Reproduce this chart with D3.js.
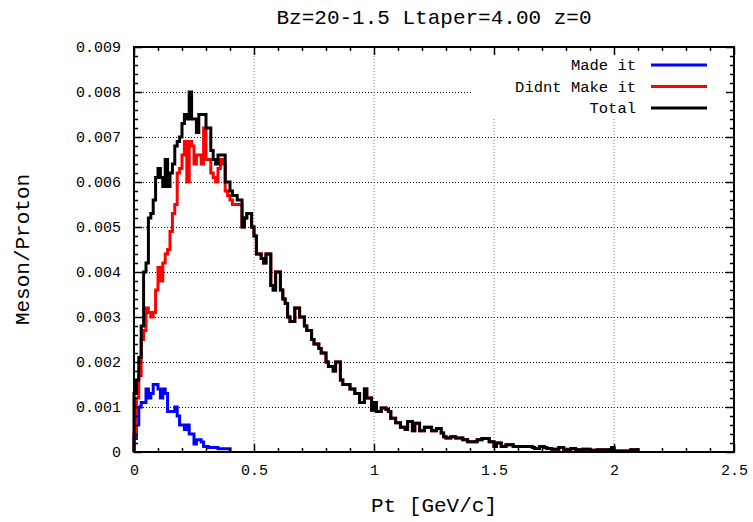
<!DOCTYPE html>
<html>
<head>
<meta charset="utf-8">
<script src="https://cdn.jsdelivr.net/npm/d3@7"></script>
<style>
  body { margin: 0; background: #fff; }
  text { font-family: "Liberation Mono", "Courier New", monospace; }
</style>
</head>
<body>
<svg id="chart" width="753" height="522"></svg>
<script>
// Histogramm-Daten, Binbreite 0.01 GeV/c
const binWidth = 0.01;

const madeIt = [
  0.0003, 0.0006, 0.0010, 0.0011, 0.0011, 0.0014, 0.0012, 0.0013, 0.0015, 0.0015,
  0.0014, 0.0012, 0.0014, 0.0013, 0.0009, 0.0009, 0.0009, 0.0010, 0.0008, 0.0006,
  0.0006, 0.0005, 0.0006, 0.0004, 0.0004, 0.00018, 0.00027, 0.00027, 0.00022, 0.00012,
  0.00012, 0.0001, 0.0001, 0.0001, 0.0001, 0.00007, 0.00007, 0.00007, 0.00007, 0.00007
];

const didntMakeIt = [
  0.0004, 0.0012, 0.0017, 0.0025, 0.0027, 0.0032, 0.0031, 0.0030, 0.0031, 0.0036,
  0.0041, 0.0038, 0.0042, 0.0044, 0.0045, 0.0049, 0.0053, 0.0055, 0.0062, 0.0063,
  0.0066, 0.0069, 0.0060, 0.0069, 0.0068, 0.0064, 0.0066, 0.0066, 0.0064, 0.0072,
  0.0065, 0.0065, 0.0062, 0.0061, 0.0060, 0.0063, 0.0065, 0.0064, 0.0058, 0.0057,
  0.0056, 0.0055, 0.0055, 0.0055, 0.0055, 0.0050, 0.0052, 0.0053, 0.0053, 0.0050,
  0.0048, 0.0044, 0.0044, 0.0043, 0.0042, 0.0044, 0.0044, 0.0037, 0.0036, 0.0040,
  0.0040, 0.0036, 0.0034, 0.0033, 0.0030, 0.0029, 0.0029, 0.0032, 0.0032, 0.0030,
  0.0030, 0.0028, 0.0027, 0.0027, 0.0025, 0.0024, 0.0024, 0.0023, 0.0022, 0.0022,
  0.0020, 0.0019, 0.0019, 0.0018, 0.0020, 0.0020, 0.0016, 0.0015, 0.0015, 0.0015,
  0.0014, 0.0014, 0.0013, 0.0013, 0.0011, 0.0011, 0.0014, 0.0012, 0.0012, 0.00093,
  0.0011, 0.0009, 0.0009, 0.00098, 0.00098, 0.00095, 0.0009, 0.00075, 0.00075, 0.00065,
  0.00065, 0.00055, 0.00055, 0.0005, 0.00068, 0.00068, 0.00047, 0.00064, 0.00064, 0.00047,
  0.00047, 0.00055, 0.00055, 0.00055, 0.00047, 0.00047, 0.00052, 0.00052, 0.00042, 0.00034,
  0.00031, 0.00031, 0.00034, 0.00034, 0.00031, 0.00031, 0.00031, 0.00027, 0.00027, 0.00023,
  0.00023, 0.00023, 0.00023, 0.00027, 0.00027, 0.0003, 0.0003, 0.0003, 0.00023, 0.00023,
  0.00012, 0.0002, 0.0002, 0.00012, 0.00012, 0.00016, 0.00016, 0.00016, 0.00012, 0.00012,
  0.00012, 0.00012, 0.00012, 0.00012, 0.00012, 0.00012, 0.0001, 0.00008, 0.00008, 0.00012,
  0.00012, 0.0001, 0.00008, 0.00008, 0.00006, 0.00006, 0.00006, 0.0001, 0.0001, 0.00006,
  0.00005, 0.00005, 0.00008, 0.00008, 0.00005, 0.00005, 0.00005, 0.00006, 0.00006, 0.00006,
  0.00004, 0.00004, 0.00004, 0.00005, 0.00005, 0.00005, 0.00005, 0.00005, 0.00005, 0.0001,
  0.00002, 0.00002, 0.00002, 0.00002, 0.00002, 0.00002, 0.00002, 0.00005, 0.00005, 0.00005
];

const total = [
  0.0013, 0.0016, 0.0021, 0.0028, 0.0040, 0.0042, 0.0052, 0.0053, 0.0056, 0.0061,
  0.0063, 0.0061, 0.0059, 0.0065, 0.0059, 0.0062, 0.0064, 0.0068, 0.0069, 0.0070,
  0.0073, 0.0075, 0.0074, 0.0080, 0.0074, 0.0074, 0.0071, 0.0075, 0.0075, 0.0075,
  0.0072, 0.0072, 0.0067, 0.0065, 0.0064, 0.0066, 0.0066, 0.0066, 0.0060, 0.0060,
  0.0058, 0.0057, 0.0057, 0.0056, 0.0056, 0.0050, 0.0052, 0.0053, 0.0053, 0.0050,
  0.0048, 0.0044, 0.0044, 0.0043, 0.0042, 0.0044, 0.0044, 0.0037, 0.0036, 0.0040,
  0.0040, 0.0036, 0.0034, 0.0033, 0.0030, 0.0029, 0.0029, 0.0032, 0.0032, 0.0030,
  0.0030, 0.0028, 0.0027, 0.0027, 0.0025, 0.0024, 0.0024, 0.0023, 0.0022, 0.0022,
  0.0020, 0.0019, 0.0019, 0.0018, 0.0020, 0.0020, 0.0016, 0.0015, 0.0015, 0.0015,
  0.0014, 0.0014, 0.0013, 0.0013, 0.0011, 0.0011, 0.0014, 0.0012, 0.0012, 0.00093,
  0.0011, 0.0009, 0.0009, 0.00098, 0.00098, 0.00095, 0.0009, 0.00075, 0.00075, 0.00065,
  0.00065, 0.00055, 0.00055, 0.0005, 0.00068, 0.00068, 0.00047, 0.00064, 0.00064, 0.00047,
  0.00047, 0.00055, 0.00055, 0.00055, 0.00047, 0.00047, 0.00052, 0.00052, 0.00042, 0.00034,
  0.00031, 0.00031, 0.00034, 0.00034, 0.00031, 0.00031, 0.00031, 0.00027, 0.00027, 0.00023,
  0.00023, 0.00023, 0.00023, 0.00027, 0.00027, 0.0003, 0.0003, 0.0003, 0.00023, 0.00023,
  0.00012, 0.0002, 0.0002, 0.00012, 0.00012, 0.00016, 0.00016, 0.00016, 0.00012, 0.00012,
  0.00012, 0.00012, 0.00012, 0.00012, 0.00012, 0.00012, 0.0001, 0.00008, 0.00008, 0.00012,
  0.00012, 0.0001, 0.00008, 0.00008, 0.00006, 0.00006, 0.00006, 0.0001, 0.0001, 0.00006,
  0.00005, 0.00005, 0.00008, 0.00008, 0.00005, 0.00005, 0.00005, 0.00006, 0.00006, 0.00006,
  0.00004, 0.00004, 0.00004, 0.00005, 0.00005, 0.00005, 0.00005, 0.00005, 0.00005, 0.0001,
  0.00002, 0.00002, 0.00002, 0.00002, 0.00002, 0.00002, 0.00002, 0.00005, 0.00005, 0.00005
];

const seriesNames = ["Made it", "Didnt Make it", "Total"];
const seriesColors = ["#0000ff", "#ff0000", "#000000"];

const xTicks = [0, 0.5, 1, 1.5, 2, 2.5];
const yTicks = [0, 0.001, 0.002, 0.003, 0.004, 0.005, 0.006, 0.007, 0.008, 0.009];

const svg = d3.select("#chart");
const margin = {top: 47, right: 19, bottom: 70, left: 134};
const width = 753 - margin.left - margin.right,
      height = 522 - margin.top - margin.bottom;

const x = d3.scaleLinear().domain([0, 2.5]).range([0, width]);
const y = d3.scaleLinear().domain([0, 0.009]).range([height, 0]);

const g = svg.append("g")
  .attr("transform", `translate(${margin.left},${margin.top})`);

// Gitterlinien (gepunktet)
g.append("g").selectAll("line")
  .data(yTicks.slice(1, -1))
  .enter().append("line")
  .attr("x1", 0).attr("x2", width)
  .attr("y1", d => Math.round(y(d)) + 0.5).attr("y2", d => Math.round(y(d)) + 0.5)
  .attr("stroke", "#000").attr("stroke-width", 1).attr("stroke-dasharray", "1,2");

g.append("g").selectAll("line")
  .data(xTicks.slice(1, -1))
  .enter().append("line")
  .attr("y1", 0).attr("y2", height)
  .attr("x1", d => x(d)).attr("x2", d => x(d))
  .attr("stroke", "#777").attr("stroke-width", 1).attr("stroke-dasharray", "1,2");

// weisser Hintergrund der Legende
g.append("rect")
  .attr("x", 337).attr("y", 1)
  .attr("width", width - 338).attr("height", 70)
  .attr("fill", "#fff");

// Treppenkurven
const line = d3.line()
  .x(d => x(d[0]))
  .y(d => y(d[1]))
  .curve(d3.curveStepAfter);

function stepPoints(vals) {
  const pts = [[0, 0]];
  vals.forEach((v, i) => pts.push([i * binWidth, v]));
  pts.push([vals.length * binWidth, 0]);
  return pts;
}

[madeIt, didntMakeIt, total].forEach((vals, i) => {
  g.append("path")
    .datum(stepPoints(vals))
    .attr("fill", "none")
    .attr("stroke", seriesColors[i])
    .attr("stroke-width", 3)
    .attr("d", line);
});

// Achsen mit Ticks nach innen, gespiegelt
const xMinor = d3.range(1, 25).map(i => i / 10).filter(v => Math.round(v * 10) % 5 !== 0);
const yMinor = d3.range(1, 45).map(i => i * 0.0002).filter((v, i) => (i + 1) % 5 !== 0);

function styleAxis(sel) {
  sel.select(".domain").remove();
  sel.selectAll("line").attr("stroke-width", 1.5);
  sel.attr("font-family", "'Liberation Mono', 'Courier New', monospace")
     .attr("font-size", 15);
  sel.selectAll("text").attr("fill", "#000");
}

g.append("g").attr("transform", `translate(0,${height})`)
  .call(d3.axisBottom(x).tickValues(xTicks).tickSize(-8).tickPadding(12).tickFormat(d => String(d)))
  .call(styleAxis);
g.append("g").attr("transform", `translate(0,${height})`)
  .call(d3.axisBottom(x).tickValues(xMinor).tickSize(-4).tickFormat(""))
  .call(styleAxis);
g.append("g")
  .call(d3.axisTop(x).tickValues(xTicks).tickSize(-8).tickFormat(""))
  .call(styleAxis);
g.append("g")
  .call(d3.axisTop(x).tickValues(xMinor).tickSize(-4).tickFormat(""))
  .call(styleAxis);

g.append("g")
  .call(d3.axisLeft(y).tickValues(yTicks).tickSize(-8).tickPadding(13).tickFormat(d => String(d)))
  .call(styleAxis);
g.append("g")
  .call(d3.axisLeft(y).tickValues(yMinor).tickSize(-4).tickFormat(""))
  .call(styleAxis);
g.append("g").attr("transform", `translate(${width},0)`)
  .call(d3.axisRight(y).tickValues(yTicks).tickSize(-8).tickFormat(""))
  .call(styleAxis);
g.append("g").attr("transform", `translate(${width},0)`)
  .call(d3.axisRight(y).tickValues(yMinor).tickSize(-4).tickFormat(""))
  .call(styleAxis);

// Rahmen
g.append("rect")
  .attr("x", 0).attr("y", 0)
  .attr("width", width).attr("height", height)
  .attr("fill", "none").attr("stroke", "#000").attr("stroke-width", 2);

// Legende
const legend = g.append("g").attr("transform", "translate(502,18)");
seriesNames.forEach((name, i) => {
  legend.append("text")
    .attr("x", 0).attr("y", i * 21.5 + 5)
    .attr("text-anchor", "end")
    .attr("font-size", 15.5)
    .text(name);
  legend.append("line")
    .attr("x1", 15).attr("x2", 71)
    .attr("y1", i * 21.5).attr("y2", i * 21.5)
    .attr("stroke", seriesColors[i]).attr("stroke-width", 3);
});

// Titel und Achsenbeschriftungen
svg.append("text")
  .attr("x", margin.left + width / 2).attr("y", 24)
  .attr("text-anchor", "middle").attr("font-size", 21)
  .text("Bz=20-1.5 Ltaper=4.00 z=0");

svg.append("text")
  .attr("x", margin.left + width / 2).attr("y", 512)
  .attr("text-anchor", "middle").attr("font-size", 21)
  .text("Pt [GeV/c]");

svg.append("text")
  .attr("transform", `translate(29,${margin.top + height / 2}) rotate(-90)`)
  .attr("text-anchor", "middle").attr("font-size", 21)
  .text("Meson/Proton");
</script>
</body>
</html>
